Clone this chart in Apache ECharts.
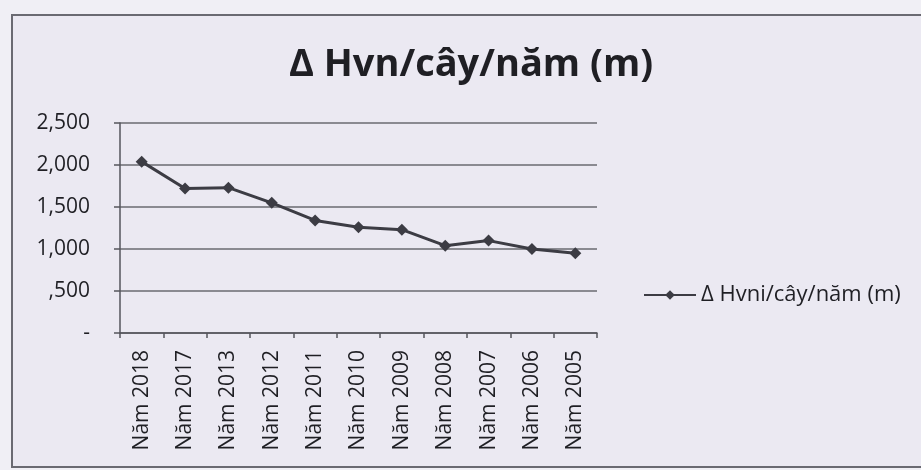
<!DOCTYPE html>
<html>
<head>
<meta charset="utf-8">
<script src="https://cdn.jsdelivr.net/npm/echarts@6/dist/echarts.min.js"></script>
<style>
  html, body { margin: 0; padding: 0; background: #f0eff5; }
  #chart { width: 921px; height: 470px; }
</style>
</head>
<body>
<div id="chart"></div>
<script>
// Annual height growth per tree, by year
const categories = ['Năm 2018', 'Năm 2017', 'Năm 2013', 'Năm 2012', 'Năm 2011', 'Năm 2010',
                    'Năm 2009', 'Năm 2008', 'Năm 2007', 'Năm 2006', 'Năm 2005'];
const growthValues = [2.04, 1.72, 1.73, 1.55, 1.34, 1.26, 1.23, 1.04, 1.10, 1.00, 0.95];
const titleText = 'Δ Hvn/cây/năm (m)';
const seriesName = 'Δ Hvni/cây/năm (m)';

// Accounting-style labels: comma decimal, no leading zero, dash for zero
function yLabel(v) {
  if (Math.abs(v) < 1e-9) return '-';
  let s = v.toFixed(3).replace('.', ',');
  if (s.startsWith('0')) s = s.slice(1);
  return s;
}

const font = 'Open Sans';
const ink = '#1f1f24';
const chart = echarts.init(document.getElementById('chart'));
chart.setOption({
  backgroundColor: '#f0eff5',
  animation: false,
  graphic: [{
    type: 'rect',
    shape: { x: 12, y: 15, width: 920, height: 452 },
    style: { fill: '#ebe9f2', stroke: '#6a6a72', lineWidth: 2 },
    z: -10
  }, {
    type: 'text',
    x: 471,
    y: 65,
    style: {
      text: titleText,
      align: 'center',
      verticalAlign: 'middle',
      fontFamily: font,
      fontSize: 38,
      fontWeight: 'bold',
      fill: ink
    }
  }],
  legend: {
    data: [seriesName],
    left: 638,
    top: 279,
    itemWidth: 52,
    itemHeight: 12,
    itemGap: 5,
    textStyle: { fontFamily: font, fontSize: 22, color: ink }
  },
  grid: { left: 120, right: 324, top: 123, bottom: 137, containLabel: false },
  xAxis: {
    type: 'category',
    data: categories,
    boundaryGap: true,
    axisLine: { lineStyle: { color: '#55555c', width: 1.5 } },
    axisTick: { show: true, length: 5, inside: false, lineStyle: { color: '#55555c', width: 1.5 } },
    axisLabel: { rotate: 90, margin: 17, fontFamily: font, fontSize: 21, color: ink },
    splitLine: { show: false }
  },
  yAxis: {
    type: 'value',
    min: 0,
    max: 2.5,
    interval: 0.5,
    axisLine: { show: true, lineStyle: { color: '#55555c', width: 1.5 } },
    axisTick: { show: true, length: 6, lineStyle: { color: '#55555c', width: 1.5 } },
    axisLabel: { formatter: yLabel, margin: 30, fontFamily: font, fontSize: 21, color: ink },
    splitLine: { show: true, lineStyle: { color: '#6a6a70', width: 1.5 } }
  },
  series: [{
    name: seriesName,
    type: 'line',
    data: growthValues,
    symbol: 'diamond',
    symbolSize: 12,
    lineStyle: { color: '#3c3c44', width: 3 },
    itemStyle: { color: '#3c3c44' }
  }]
});
</script>
</body>
</html>
